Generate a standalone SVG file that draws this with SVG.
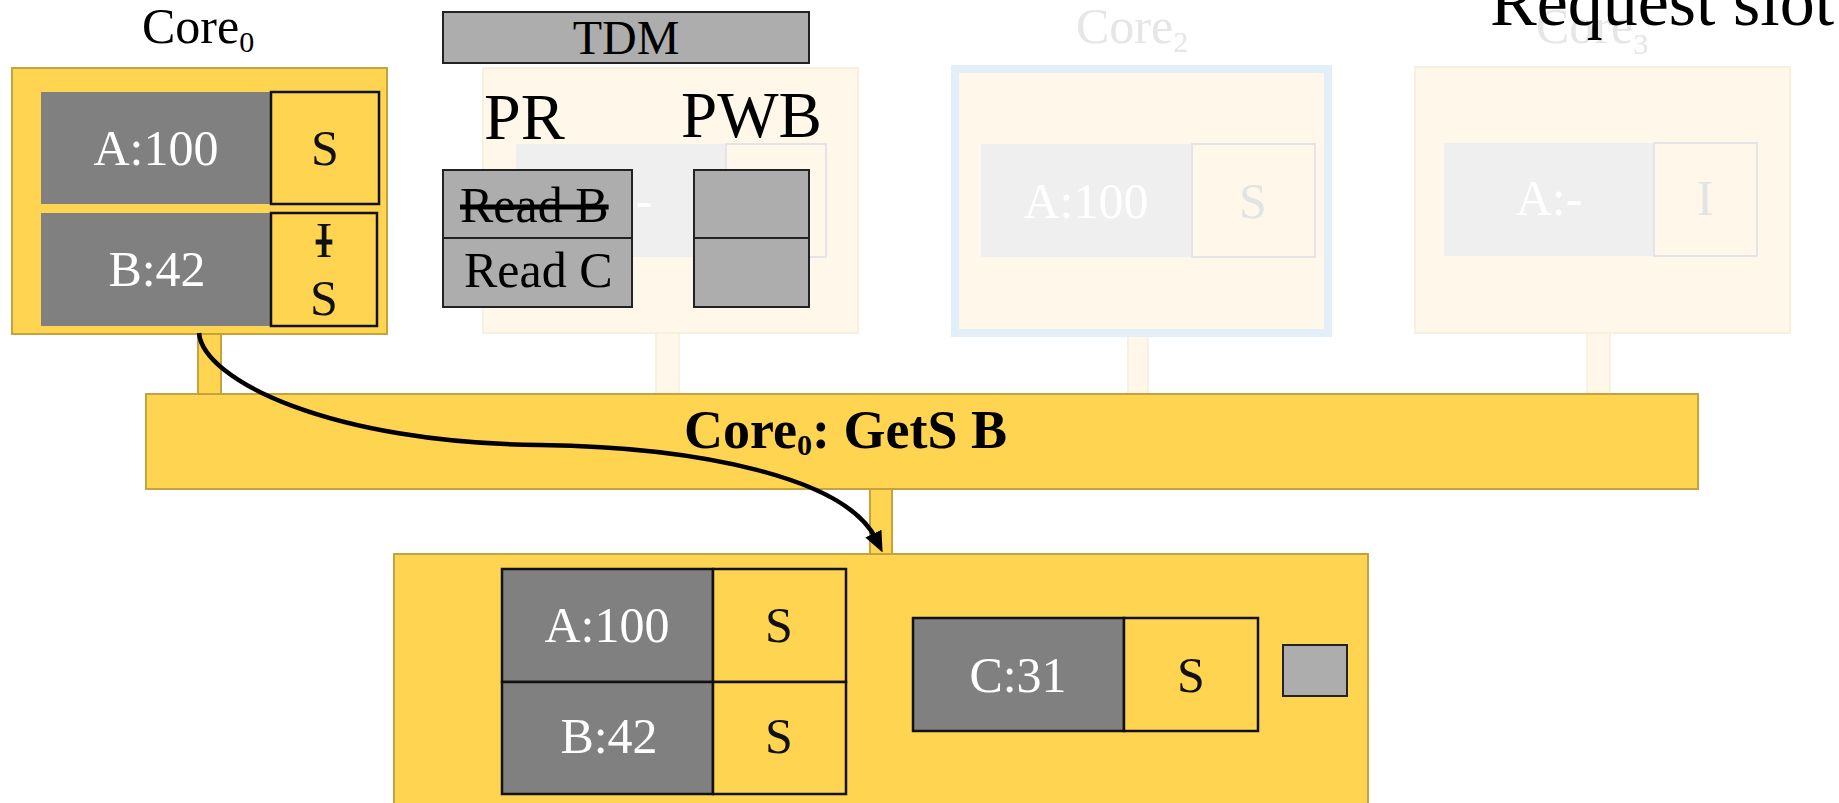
<svg xmlns="http://www.w3.org/2000/svg" width="1839" height="803" viewBox="0 0 1839 803">
  <style>
    text { font-family: "Liberation Serif", "Times New Roman", serif; }
    .core { fill: #FFD450; stroke: #C4A23E; stroke-width: 2; }
    .line { fill: #808080; }
    .state { fill: #FFD450; stroke: #111111; stroke-width: 2.5; }
    .gbox { fill: #ADADAD; stroke: #222222; stroke-width: 2; }
    .fcore { fill: #FFF8EA; stroke: #F8F0DE; stroke-width: 2; }
    .fline { fill: #EFEFEF; }
    .fstate { fill: #FFF8EA; stroke: #E4E4E6; stroke-width: 2; }
    .stub { fill: #FFD450; stroke: #C4A23E; stroke-width: 2; }
    .fstub { fill: #FFF8EA; stroke: #F6EEDC; stroke-width: 1.5; }
    .cell { font-size: 50px; fill: #FFFFFF; text-anchor: middle; }
    .st { font-size: 50px; fill: #111111; text-anchor: middle; }
    .flabel { font-size: 50px; fill: #E6E6E6; }
    .fst { font-size: 50px; fill: #E3E3E3; text-anchor: middle; }
    .lbl { font-size: 50px; fill: #000000; }
    .sub { font-size: 30px; }
  </style>
  <defs>
    <marker id="head" markerUnits="userSpaceOnUse" markerWidth="21" markerHeight="18" viewBox="0 0 21 18" refX="6" refY="9" orient="auto">
      <path d="M0,0 L21,9 L0,18 z" fill="#000000"/>
    </marker>
  </defs>

  <rect width="1839" height="803" fill="#FFFFFF"/>

  <!-- faded core 1 (behind the TDM buffers) -->
  <g id="core1">
    <rect class="fstub" x="656" y="333" width="23" height="62"/>
    <rect class="fcore" x="483" y="68" width="375" height="265"/>
    <rect class="fline" x="516" y="144" width="210" height="113"/>
    <rect class="fstate" x="726" y="144" width="100" height="113"/>
    <text class="cell" x="644" y="217">-</text>
  </g>

  <!-- faded core 2 -->
  <g id="core2">
    <text class="flabel" x="1076" y="43">Core<tspan class="sub" dy="9">2</tspan></text>
    <rect class="fstub" x="1128" y="333" width="20" height="62"/>
    <rect x="955" y="69" width="373" height="264" fill="#FFF8EA" stroke="#E2EEF8" stroke-width="8"/>
    <rect class="fline" x="981" y="144" width="211" height="113"/>
    <rect class="fstate" x="1192" y="144" width="123" height="113"/>
    <text class="cell" x="1086" y="218">A:100</text>
    <text class="fst" x="1253" y="218">S</text>
  </g>

  <!-- faded core 3 -->
  <g id="core3">
    <text class="flabel" x="1536" y="43">Core<tspan class="sub" dy="11">3</tspan></text>
    <rect class="fstub" x="1587" y="333" width="23" height="62"/>
    <rect class="fcore" x="1415" y="67" width="375" height="266"/>
    <rect class="fline" x="1444" y="143" width="210" height="113"/>
    <rect class="fstate" x="1654" y="143" width="103" height="113"/>
    <text class="cell" x="1549" y="215">A:-</text>
    <text class="fst" x="1705" y="215">I</text>
  </g>

  <!-- core 0 -->
  <g id="core0">
    <text class="lbl" x="142" y="43">Core<tspan class="sub" dy="9">0</tspan></text>
    <rect class="stub" x="198" y="334" width="23" height="60"/>
    <rect class="core" x="12" y="68" width="375" height="266"/>
    <rect class="line" x="41" y="92" width="230" height="112"/>
    <rect class="state" x="271" y="92" width="108" height="112"/>
    <text class="cell" x="156" y="165">A:100</text>
    <text class="st" x="325" y="165">S</text>
    <rect class="line" x="41" y="213" width="230" height="113"/>
    <rect class="state" x="271" y="213" width="106" height="113"/>
    <text class="cell" x="157" y="286">B:42</text>
    <text class="st" x="324" y="257" text-decoration="line-through">I</text>
    <text class="st" x="324" y="315">S</text>
  </g>

  <!-- TDM arbiter with pending-read and pending-writeback buffers -->
  <g id="tdm">
    <rect class="gbox" x="443" y="12" width="366" height="51"/>
    <text x="626" y="54" font-size="48" text-anchor="middle" fill="#000000">TDM</text>
  </g>
  <g id="pr">
    <text x="484" y="139" font-size="66" fill="#000000">PR</text>
    <rect class="gbox" x="443" y="170" width="189" height="68"/>
    <rect class="gbox" x="443" y="238" width="189" height="69"/>
    <text x="460" y="222" font-size="50" fill="#000000" text-decoration="line-through">Read B</text>
    <text x="464" y="287" font-size="50" fill="#000000">Read C</text>
  </g>
  <g id="pwb">
    <text x="681" y="137" font-size="65" fill="#000000">PWB</text>
    <rect class="gbox" x="694" y="170" width="115" height="68"/>
    <rect class="gbox" x="694" y="238" width="115" height="69"/>
  </g>

  <g id="request-slot">
    <text x="1490" y="25" font-size="70" fill="#000000">Request slot</text>
  </g>

  <!-- shared bus -->
  <g id="bus">
    <rect class="stub" x="870" y="489" width="22" height="66"/>
    <rect class="core" x="146" y="394" width="1552" height="95"/>
    <text x="684" y="448" font-size="54" font-weight="bold" fill="#000000">Core<tspan font-size="30" dy="7">0</tspan><tspan dy="-7">: GetS B</tspan></text>
  </g>

  <!-- shared cache -->
  <g id="llc">
    <rect class="core" x="394" y="554" width="974" height="270"/>
    <rect class="line" x="502" y="569" width="211" height="113" stroke="#111111" stroke-width="2.5"/>
    <rect class="state" x="713" y="569" width="133" height="113"/>
    <rect class="line" x="502" y="682" width="211" height="112" stroke="#111111" stroke-width="2.5"/>
    <rect class="state" x="713" y="682" width="133" height="112"/>
    <text class="cell" x="607" y="642">A:100</text>
    <text class="st" x="779" y="642">S</text>
    <text class="cell" x="609" y="753">B:42</text>
    <text class="st" x="779" y="753">S</text>
    <rect class="line" x="913" y="618" width="211" height="113" stroke="#111111" stroke-width="2.5"/>
    <rect class="state" x="1124" y="618" width="134" height="113"/>
    <text class="cell" x="1018" y="692">C:31</text>
    <text class="st" x="1191" y="692">S</text>
    <rect class="gbox" x="1283" y="645" width="64" height="51"/>
  </g>

  <!-- request path -->
  <g id="connectors">
    <path d="M199,333 C203,380 330,443 540,445 C700,447 846,478 876,539" fill="none" stroke="#000000" stroke-width="4.5" marker-end="url(#head)"/>
  </g>
</svg>
